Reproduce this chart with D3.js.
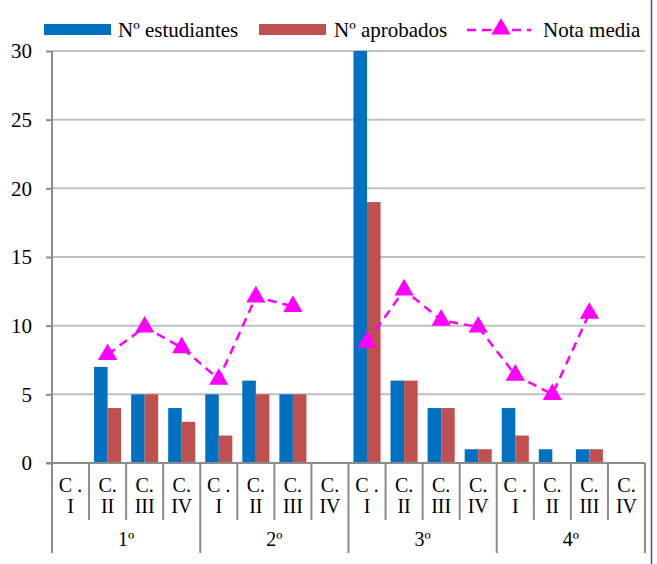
<!DOCTYPE html>
<html>
<head>
<meta charset="utf-8">
<script src="https://cdn.jsdelivr.net/npm/d3@7"></script>
<style>
  body { margin: 0; background: #fff; }
  text { font-family: "Liberation Serif", "Times New Roman", serif; fill: #000; }
</style>
</head>
<body>
<script>
// DATA
const groups = ['1º', '2º', '3º', '4º']
const cursos = ['C . I', 'C. II', 'C. III', 'C. IV']
const estudiantes = [0, 7, 5, 4, 5, 6, 5, 0, 30, 6, 4, 1, 4, 1, 1, 0]
const aprobados   = [0, 4, 5, 3, 2, 5, 5, 0, 19, 6, 4, 1, 2, 0, 1, 0]
const notaMedia   = [null, 7.9, 9.9, 8.4, 6.1, 12.1, 11.4, null, 8.8, 12.6, 10.4, 9.9, 6.4, 5.0, 10.9, null]
const yTicks = [0, 5, 10, 15, 20, 25, 30]

const blue = '#0070c0'
const red = '#c0504d'
const magenta = '#ff00ff'
const grid = '#c0c0c0'
const axisCol = '#8c8c8c'

const W = 657, H = 564
const margin = {top: 51, left: 52, right: 12, bottom: 101}
const plotW = W - margin.left - margin.right
const plotH = H - margin.top - margin.bottom

const cats = []
groups.forEach(function(g, gi) {
  cursos.forEach(function(c, ci) { cats.push({g: g, gi: gi, c: c, i: gi * 4 + ci}) })
})

const svg = d3.select('body').append('svg')
    .attr('width', W).attr('height', H)

// SCALES
const x = d3.scaleBand().domain(d3.range(cats.length)).range([margin.left, margin.left + plotW])
const xs = d3.scaleBand().domain(['est', 'apr']).range([0, x.bandwidth()]).paddingOuter(0.37)
const y = d3.scaleLinear().domain([0, 30]).range([margin.top + plotH, margin.top])

// gridlines
svg.append('g').selectAll('line')
  .data(yTicks.filter(function(d) { return d > 0 }))
  .enter().append('line')
    .attr('x1', margin.left).attr('x2', margin.left + plotW)
    .attr('y1', function(d) { return y(d) }).attr('y2', function(d) { return y(d) })
    .attr('stroke', grid).attr('stroke-width', 2)

// y axis
const yAxis = svg.append('g')
    .attr('transform', `translate(${margin.left},0)`)
    .call(d3.axisLeft(y).tickValues(yTicks).tickSize(6).tickPadding(14))
yAxis.select('.domain').remove()
yAxis.selectAll('line').attr('stroke', axisCol).attr('stroke-width', 2)
yAxis.selectAll('text').attr('font-size', 21).style('font-family', '"Liberation Serif", serif')

// bars
const bars = svg.append('g')
bars.selectAll('rect.est')
  .data(estudiantes)
  .enter().append('rect')
    .attr('x', function(d, i) { return x(i) + xs('est') })
    .attr('width', xs.bandwidth())
    .attr('y', function(d) { return y(d) })
    .attr('height', function(d) { return y(0) - y(d) })
    .attr('fill', blue)
bars.selectAll('rect.apr')
  .data(aprobados)
  .enter().append('rect')
    .attr('x', function(d, i) { return x(i) + xs('apr') })
    .attr('width', xs.bandwidth())
    .attr('y', function(d) { return y(d) })
    .attr('height', function(d) { return y(0) - y(d) })
    .attr('fill', red)

// axes lines
const base = y(0)
svg.append('line')
    .attr('x1', margin.left - 6).attr('x2', margin.left + plotW)
    .attr('y1', base).attr('y2', base)
    .attr('stroke', axisCol).attr('stroke-width', 2)
svg.append('line')
    .attr('x1', margin.left).attr('x2', margin.left)
    .attr('y1', margin.top).attr('y2', base + 90)
    .attr('stroke', axisCol).attr('stroke-width', 2)

// category separators
svg.append('g').selectAll('line')
  .data(d3.range(1, cats.length + 1))
  .enter().append('line')
    .attr('x1', function(i) { return margin.left + i * x.step() })
    .attr('x2', function(i) { return margin.left + i * x.step() })
    .attr('y1', base)
    .attr('y2', function(i) { return i % 4 === 0 ? base + 90 : base + 57 })
    .attr('stroke', axisCol).attr('stroke-width', 2)

// category labels (two lines)
const catLab = svg.append('g').selectAll('text')
  .data(cats)
  .enter().append('text')
    .attr('text-anchor', 'middle')
    .attr('font-size', 20)
    .attr('x', function(d) { return x(d.i) + x.bandwidth() / 2 })
catLab.append('tspan')
    .attr('x', function(d) { return x(d.i) + x.bandwidth() / 2 })
    .attr('y', base + 29)
    .text(function(d) { return d.c.split(' ').slice(0, -1).join(' ') })
catLab.append('tspan')
    .attr('x', function(d) { return x(d.i) + x.bandwidth() / 2 })
    .attr('y', base + 50)
    .text(function(d) { return d.c.split(' ').slice(-1)[0] })

// group labels
svg.append('g').selectAll('text')
  .data(groups)
  .enter().append('text')
    .attr('text-anchor', 'middle')
    .attr('font-size', 20)
    .attr('x', function(d, gi) { return margin.left + (gi * 4 + 2) * x.step() })
    .attr('y', base + 83)
    .text(function(d) { return d })

// Nota media line
const line = d3.line()
    .defined(function(d) { return d != null })
    .x(function(d, i) { return x(i) + x.bandwidth() / 2 })
    .y(function(d) { return y(d) })
svg.append('path')
    .datum(notaMedia)
    .attr('d', line)
    .attr('fill', 'none')
    .attr('stroke', magenta).attr('stroke-width', 2.5)
    .attr('stroke-dasharray', '9,6')

const tri = d3.symbol().type(d3.symbolTriangle).size(160)
svg.append('g').selectAll('path')
  .data(notaMedia.map(function(d, i) { return {v: d, i: i} }).filter(function(d) { return d.v != null }))
  .enter().append('path')
    .attr('d', tri)
    .attr('transform', function(d) { return `translate(${x(d.i) + x.bandwidth() / 2},${y(d.v)})` })
    .attr('fill', magenta)

// LEGEND
const legend = svg.append('g').attr('font-size', 21)
legend.append('rect').attr('x', 44).attr('y', 24).attr('width', 67).attr('height', 11).attr('fill', blue)
legend.append('text').attr('x', 118).attr('y', 37).text('Nº estudiantes')
legend.append('rect').attr('x', 259).attr('y', 24).attr('width', 67).attr('height', 11).attr('fill', red)
legend.append('text').attr('x', 334).attr('y', 37).text('Nº aprobados')
legend.append('line').attr('x1', 467).attr('x2', 531).attr('y1', 30).attr('y2', 30)
    .attr('stroke', magenta).attr('stroke-width', 2.5).attr('stroke-dasharray', '9,6')
legend.append('path').attr('d', tri).attr('transform', 'translate(501,29)').attr('fill', magenta)
legend.append('text').attr('x', 543).attr('y', 37).text('Nota media')

// right frame edge
svg.append('line')
    .attr('x1', 651.5).attr('x2', 651.5).attr('y1', 0).attr('y2', H)
    .attr('stroke', '#3a5f9f').attr('stroke-width', 1.5)
</script>
</body>
</html>
